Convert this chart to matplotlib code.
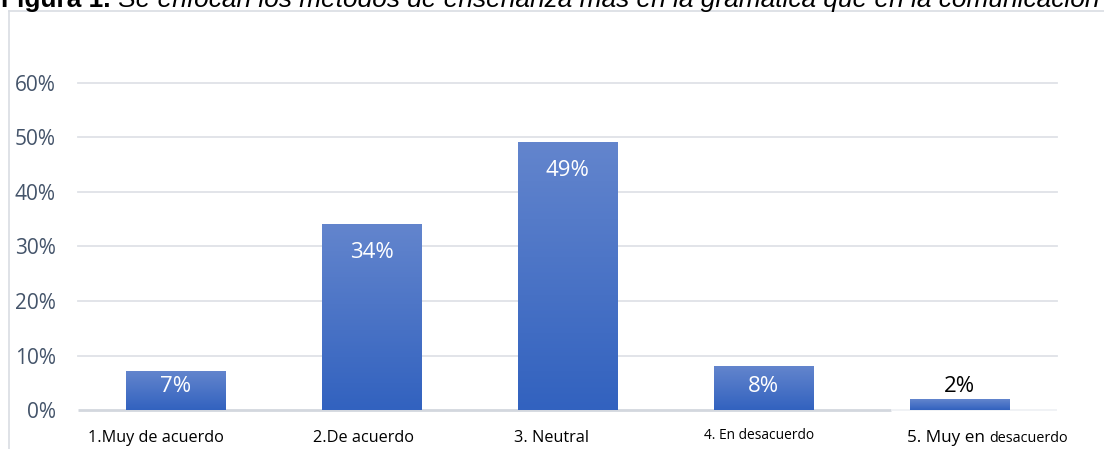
import numpy as np
import matplotlib
matplotlib.use("Agg")
import matplotlib.pyplot as plt
from matplotlib.colors import LinearSegmentedColormap
from matplotlib.lines import Line2D

categories = ["1.Muy de acuerdo", "2.De acuerdo", "3. Neutral", "4. En desacuerdo", "5. Muy en"]
values = [0.07, 0.34, 0.49, 0.08, 0.02]
value_labels = ["7%", "34%", "49%", "8%", "2%"]
yticks = [0.0, 0.1, 0.2, 0.3, 0.4, 0.5, 0.6]
ytick_labels = ["0%", "10%", "20%", "30%", "40%", "50%", "60%"]
title_bold = "Figura 1."
title_rest = " Se enfocan los métodos de enseñanza más en la gramática que en la comunicación"

W, H = 1104, 449
fig = plt.figure(figsize=(W / 100, H / 100), dpi=100)
fig.patch.set_facecolor("white")

ax = fig.add_axes([78 / W, 1 - 410 / H, (1057 - 78) / W, (410 - 83) / H])
ax.set_xlim(-0.5, 4.5)
ax.set_ylim(0, 0.6)
for s in ax.spines.values():
    s.set_visible(False)
ax.set_facecolor("none")

# horizontal gridlines
grid_c = "#dfe2e7"
for t in yticks[1:]:
    ax.axhline(t, color=grid_c, lw=1.3, zorder=1, clip_on=False)
# baseline
ax.plot([-0.5, 3.65], [0, 0], color="#d3d7de", lw=2.0, zorder=1, clip_on=False, solid_capstyle="butt")
ax.plot([3.65, 4.5], [0, 0], color="#eef0f3", lw=1.2, zorder=1, clip_on=False, solid_capstyle="butt")

ax.set_yticks(yticks)
ax.set_yticklabels(ytick_labels, fontfamily="Open Sans", fontsize=15, color="#44546a")
ax.tick_params(axis="y", length=0, pad=16)
ax.set_xticks([])

# bars with vertical gradient
cmap = LinearSegmentedColormap.from_list("barfill", ["#3262bf", "#6385cd"])
grad = np.linspace(0, 1, 256).reshape(-1, 1)
bw = 0.506
px_per_unit = (410 - 83) / 0.6
for i, v in enumerate(values):
    ax.imshow(grad, cmap=cmap, origin="lower", aspect="auto",
              extent=(i - bw / 2, i + bw / 2, 0, v), zorder=2, interpolation="bilinear")
    top_px = v * px_per_unit
    cy = max(top_px - 28, 24) / px_per_unit
    inside = cy + 8 / px_per_unit < v
    ax.text(i, cy, value_labels[i], ha="center", va="center",
            fontfamily="Open Sans", fontsize=16,
            color="white" if inside else "black", zorder=3)

# category labels
def fy(py):
    return 1 - py / H

label_x = [88, 313, 514, 704, 907]
label_size = [11.7, 11.7, 11.7, 9.9, 12.3]
label_base = [442, 442, 442, 439, 442]
txts = []
for x, lab, fs, by in zip(label_x, categories, label_size, label_base):
    t = fig.text(x / W, fy(by), lab, ha="left", va="baseline",
                 fontfamily="Open Sans", fontsize=fs, color="black")
    txts.append(t)

fig.canvas.draw()
r = fig.canvas.get_renderer()
bb = txts[-1].get_window_extent(renderer=r)
fig.text((bb.x1 + 4) / W, fy(442), "desacuerdo", ha="left", va="baseline",
         fontfamily="Open Sans", fontsize=10.4, color="black")

# caption line at the very top
tb = fig.text(1 / W, fy(7), title_bold, ha="left", va="baseline",
              fontfamily="Liberation Sans", fontweight="bold", fontsize=18.9, color="black")
fig.canvas.draw()
bb = tb.get_window_extent(renderer=r)
fig.text(bb.x1 / W, fy(7), title_rest, ha="left", va="baseline",
         fontfamily="Liberation Sans", fontstyle="italic", fontsize=18.9, color="black")

# outer frame
fc = "#d9dde3"
fig.add_artist(Line2D([9 / W, 9 / W], [0, fy(10.5)], color=fc, lw=1.2))
fig.add_artist(Line2D([9 / W, 1], [fy(10.5), fy(10.5)], color=fc, lw=1.2))

fig.savefig("out.png", dpi=100, facecolor="white")
